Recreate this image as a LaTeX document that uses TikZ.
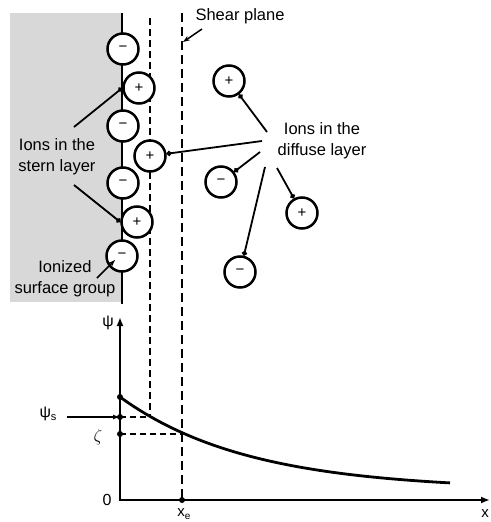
\documentclass[tikz,border=0pt]{standalone}
\usepackage{fontspec}
\setmainfont{Liberation Sans}
\usetikzlibrary{arrows.meta}
\definecolor{surf}{RGB}{216,216,216}
\begin{document}
\begin{tikzpicture}[x=1pt,y=-1pt,
  ion/.style={circle,draw,fill=white,line width=2.5pt,minimum size=31pt,inner sep=0pt,font=\fontsize{15}{15}\selectfont},
  lbl/.style={font=\fontsize{16.5}{21}\selectfont,align=center,inner sep=1pt},
  lead/.style={line width=1.8pt,-{Circle[length=5pt]}},
  pointer/.style={line width=1.7pt,-{Stealth[length=7pt,width=5pt]}},
  sternline/.style={line width=2pt,dash pattern=on 7pt off 4pt},
  shearline/.style={line width=1.6pt,dash pattern=on 9pt off 5pt},
  guide/.style={line width=1.5pt,dash pattern=on 6pt off 4pt},
  axis/.style={line width=2.6pt},
  dot/.style={circle,fill,inner sep=0pt,minimum size=6pt}]
\useasboundingbox (0,0) rectangle (490,522);
% surface
\fill[surf] (10,13) rectangle (121,302);
\coordinate (surftop) at (122,13);
\coordinate (surfbot) at (122,304);
\draw[line width=2.8pt] (surftop) -- (surfbot);
% planes
\coordinate (sterntop) at (150,18);
\coordinate (sternbot) at (150,417);
\coordinate (sheartop) at (182,13);
\coordinate (shearbot) at (182,500);
\draw[sternline] (sterntop) -- (sternbot);
\draw[shearline] (sheartop) -- (shearbot);
% labels
\node[lbl] (stern) at (57,157) {Ions in the\\stern layer};
\node[lbl] (diffuse) at (322,141) {Ions in the\\diffuse layer};
\node[lbl] (ionized) at (65,279) {Ionized\\surface group};
\node[lbl] (shear) at (240,16) {Shear plane};
% ions
\node[ion] (m1) at (123,49) {−};
\node[ion] (p1) at (139,88) {+};
\node[ion] (m2) at (123,126) {−};
\node[ion] (p2) at (150,156) {+};
\node[ion] (m3) at (123,183) {−};
\node[ion] (p3) at (137,222) {+};
\node[ion] (m4) at (122,256) {−};
\node[ion] (p4) at (229,81) {+};
\node[ion] (m5) at (221,182) {−};
\node[ion] (p5) at (302,213) {+};
\node[ion] (m6) at (240,272) {−};
% leaders
\coordinate (sA) at (74,127);
\coordinate (sB) at (74,185);
\draw[lead] (sA) -- (p1.west);
\draw[lead] (sB) -- (p3.west);
\coordinate (dA) at (267,132);
\coordinate (dB) at (262,141);
\coordinate (dC) at (260,152);
\coordinate (dD) at (265,167);
\coordinate (dE) at (277,168);
\draw[lead] (dA) -- (p4);
\draw[lead] (dB) -- (p2);
\draw[lead] (dC) -- (m5);
\draw[lead] (dD) -- (m6);
\draw[lead] (dE) -- (p5);
\coordinate (gA) at (97,278);
\draw[pointer] (gA) -- ([shift={(-7,4)}]m4.center);
\coordinate (shA) at (202,29);
\coordinate (shB) at (183,42);
\draw[pointer,line width=1.5pt] (shA) -- (shB);
% graph
\coordinate (O) at (120,500);
\coordinate (ytop) at (120,317);
\coordinate (xend) at (490,500);
\draw[axis,line join=miter,{Latex[length=9pt,width=7pt]}-{Latex[length=9pt,width=7pt]}] (ytop) -- (O) -- (xend);
\draw[line width=2.8pt] plot[domain=120:450,samples=60,smooth] (\x,{500-(93*exp(-0.0078*(\x-120))+10)});
\coordinate (ps) at (120,417);
\coordinate (ze) at (120,434);
\coordinate (pz) at (120,397);
\draw[guide] (ps) -- (sternbot);
\draw[guide] (ze) -- (182,434);
\node[dot] at (pz) {};
\node[dot] at (ps) {};
\node[dot] at (ze) {};
\node[dot] at (182,500) {};
\node[font=\fontsize{16}{16}\selectfont] (psilab) at (108,323) {ψ};
\node[font=\fontsize{16}{16}\selectfont] (zero) at (107,500) {0};
\node[font=\fontsize{16}{16}\selectfont] (psis) at (48,414) {ψ\raisebox{-3pt}{\fontsize{11}{11}\selectfont s}};
\coordinate (psA) at (67,417);
\draw[line width=1.7pt,-{Latex[length=7pt,width=5pt]}] (psA) -- (ps);
\node[font=\fontsize{17}{17}\selectfont] (zeta) at (98,437) {$\zeta$};
\node[font=\fontsize{15}{15}\selectfont] (xe) at (184,514) {x\raisebox{-3pt}{\fontsize{10}{10}\selectfont e}};
\node[font=\fontsize{15}{15}\selectfont,anchor=east,inner sep=1pt] (xlab) at (490,514) {x};
\end{tikzpicture}
\end{document}
